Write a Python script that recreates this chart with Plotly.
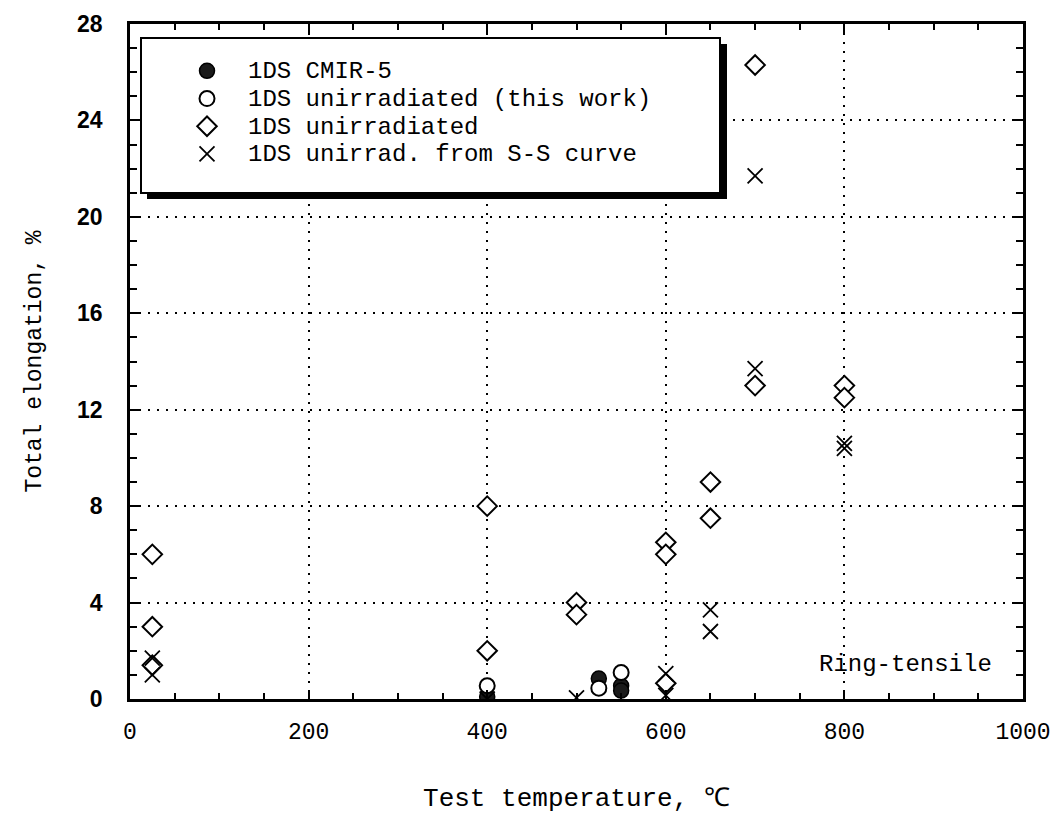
import plotly.graph_objects as go

# Test temperature (degC) and total elongation (%) for each data set
cmir5_temp = [400, 525, 550, 550]
cmir5_elong = [0.1, 0.85, 0.55, 0.35]

unirr_work_temp = [400, 525, 550]
unirr_work_elong = [0.55, 0.45, 1.1]

unirr_temp = [25, 25, 25, 400, 400, 500, 500, 600, 600, 600, 650, 650, 700, 700, 800, 800]
unirr_elong = [6.0, 3.0, 1.4, 8.0, 2.0, 4.0, 3.5, 6.5, 6.0, 0.65, 9.0, 7.5, 13.0, 26.3, 13.0, 12.5]

ss_temp = [25, 25, 400, 500, 600, 600, 650, 650, 700, 700, 800, 800]
ss_elong = [1.7, 1.0, 0.0, 0.05, 1.05, 0.15, 3.7, 2.8, 13.7, 21.7, 10.6, 10.4]

x_ticks = [0, 200, 400, 600, 800, 1000]
y_ticks = [0, 4, 8, 12, 16, 20, 24, 28]

FONT = "Liberation Mono, DejaVu Sans Mono, monospace"
BOLD = "Liberation Sans, Arial, sans-serif"


def label(text):
    return '<span style="font-size:24px">' + text + "</span>"


fig = go.Figure()
fig.add_trace(go.Scatter(
    x=cmir5_temp, y=cmir5_elong, mode="markers", name=label("1DS CMIR-5"),
    marker=dict(symbol="circle", size=15, color="#1a1a1a", line=dict(color="black", width=1.5)),
))
fig.add_trace(go.Scatter(
    x=unirr_work_temp, y=unirr_work_elong, mode="markers",
    name=label("1DS unirradiated (this work)"),
    marker=dict(symbol="circle", size=15, color="white", line=dict(color="black", width=2)),
))
fig.add_trace(go.Scatter(
    x=unirr_temp, y=unirr_elong, mode="markers", name=label("1DS unirradiated"),
    marker=dict(symbol="diamond", size=15, color="white", line=dict(color="black", width=2)),
))
fig.add_trace(go.Scatter(
    x=ss_temp, y=ss_elong, mode="markers", name=label("1DS unirrad. from S-S curve"),
    marker=dict(symbol="x-thin-open", size=15, color="black", line=dict(color="black", width=1.8)),
))

W, H = 1058, 814
L, R, T, B = 130, 35, 24, 115
pw, ph = W - L - R, H - T - B


def px_x(p):
    return (p - L) / pw


def px_y(p):
    return (H - B - p) / ph


# legend frame with a drop shadow
fig.add_shape(type="rect", xref="paper", yref="paper", layer="above",
              x0=px_x(147), x1=px_x(727), y0=px_y(199), y1=px_y(44),
              fillcolor="black", line=dict(width=0))
fig.add_shape(type="rect", xref="paper", yref="paper", layer="above",
              x0=px_x(141), x1=px_x(720), y0=px_y(193), y1=px_y(38),
              fillcolor="white", line=dict(color="black", width=2))

fig.add_annotation(x=968, y=1.45, xref="x", yref="y", text="Ring-tensile",
                   showarrow=False, xanchor="right", yanchor="middle",
                   font=dict(family=FONT, size=24, color="black"))

axis_common = dict(
    showline=True, linecolor="black", linewidth=2.5, mirror="allticks",
    ticks="inside", ticklen=9, tickwidth=2, tickcolor="black",
    showgrid=True, gridcolor="black", gridwidth=2, griddash="2px,7px",
    zeroline=False, automargin=False,
)

fig.update_xaxes(
    range=[0, 1000], tickvals=x_ticks, ticktext=[str(v) for v in x_ticks],
    tickfont=dict(family=FONT, size=23, color="black"), ticklabelstandoff=10,
    minor=dict(dtick=50, ticks="inside", ticklen=6, tickwidth=1.5, tickcolor="black", showgrid=False),
    title=dict(text="Test temperature, ℃", font=dict(family=FONT, size=26, color="black"), standoff=46),
    **axis_common,
)
fig.update_yaxes(
    range=[0, 28], tickvals=y_ticks, ticktext=[str(v) for v in y_ticks],
    tickfont=dict(family=BOLD, size=23, color="black", weight="bold"), ticklabelstandoff=20,
    minor=dict(dtick=1, ticks="inside", ticklen=7, tickwidth=1.5, tickcolor="black", showgrid=False),
    title=dict(text="Total elongation, %", font=dict(family=FONT, size=23, color="black"), standoff=30),
    **axis_common,
)

fig.update_layout(
    width=W, height=H, margin=dict(l=L, r=R, t=T, b=B, autoexpand=False),
    paper_bgcolor="white", plot_bgcolor="white",
    showlegend=True,
    legend=dict(
        x=px_x(166), y=px_y(52), xanchor="left", yanchor="top",
        bgcolor="rgba(0,0,0,0)", borderwidth=0, itemwidth=72,
        font=dict(family=FONT, size=19, color="black"),
    ),
)

fig.write_html("out.html")
